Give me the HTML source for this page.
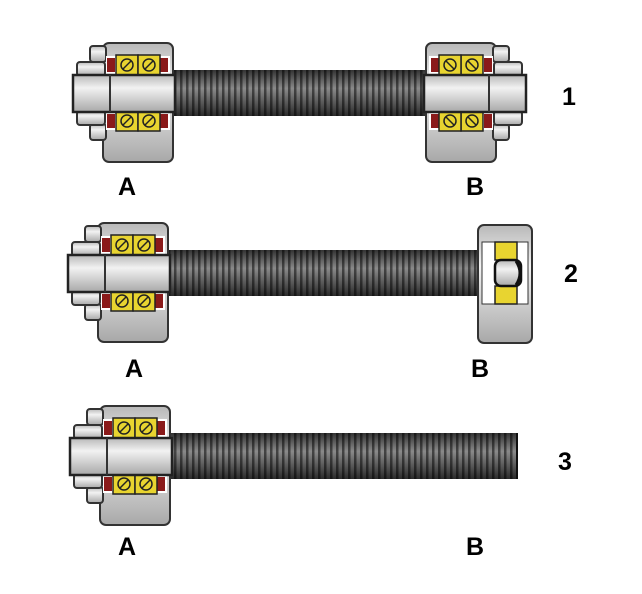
<!DOCTYPE html>
<html><head><style>
html,body{margin:0;padding:0;background:#fff;}
svg{display:block}
text{font-family:"Liberation Sans",Arial,sans-serif;font-weight:bold;font-size:25px;fill:#000}
</style></head><body>
<svg width="642" height="594" viewBox="0 0 642 594" xmlns="http://www.w3.org/2000/svg">
<defs>
<linearGradient id="gv" x1="0" y1="0" x2="0" y2="1">
<stop offset="0" stop-color="#b8b8b8"/><stop offset="0.35" stop-color="#f2f2f2"/><stop offset="1" stop-color="#a8a8a8"/>
</linearGradient>
<linearGradient id="gs" x1="0" y1="0" x2="0" y2="1">
<stop offset="0" stop-color="#333"/><stop offset="0.4" stop-color="#8a8a8a"/><stop offset="1" stop-color="#2a2a2a"/>
</linearGradient>
<pattern id="th" width="6" height="50" patternUnits="userSpaceOnUse">
<rect x="0" y="0" width="2.5" height="50" fill="#000" opacity="0.5"/>
</pattern>
<g id="brg">
<rect x="0" y="0" width="22" height="20" fill="#e8d430" stroke="#222" stroke-width="1.5"/>
<rect x="22" y="0" width="22" height="20" fill="#e8d430" stroke="#222" stroke-width="1.5"/>
<circle cx="11" cy="10" r="6" fill="none" stroke="#222" stroke-width="1.5"/>
<circle cx="33" cy="10" r="6" fill="none" stroke="#222" stroke-width="1.5"/>
<line x1="7" y1="14" x2="15" y2="6" stroke="#222" stroke-width="1.5"/>
<line x1="29" y1="14" x2="37" y2="6" stroke="#222" stroke-width="1.5"/>
</g>
<g id="asm">
<rect x="103" y="43" width="70" height="119" rx="6" fill="url(#gv)" stroke="#333" stroke-width="2"/>
<rect x="90" y="46" width="16" height="16" rx="3" fill="url(#gv)" stroke="#333" stroke-width="2"/>
<rect x="90" y="124" width="16" height="16" rx="3" fill="url(#gv)" stroke="#333" stroke-width="2"/>
<rect x="106" y="56" width="64" height="18" fill="#fff"/>
<rect x="106" y="112" width="64" height="18" fill="#fff"/>
<rect x="107" y="58" width="8" height="14" fill="#8a1a1a"/>
<rect x="160" y="58" width="8" height="14" fill="#8a1a1a"/>
<rect x="107" y="114" width="8" height="14" fill="#8a1a1a"/>
<rect x="160" y="114" width="8" height="14" fill="#8a1a1a"/>
<use href="#brg" x="116" y="55"/>
<use href="#brg" x="116" y="111"/>
<rect x="77" y="62" width="28" height="14" rx="3" fill="url(#gv)" stroke="#333" stroke-width="2"/>
<rect x="77" y="111" width="28" height="14" rx="3" fill="url(#gv)" stroke="#333" stroke-width="2"/>
<rect x="73" y="75" width="102" height="37" fill="url(#gv)" stroke="#222" stroke-width="2.5"/>
<line x1="110" y1="75" x2="110" y2="112" stroke="#333" stroke-width="2"/>
</g>
</defs>

<rect x="173" y="70" width="254" height="46" fill="url(#gs)"/>
<rect x="173" y="70" width="254" height="46" fill="url(#th)"/>
<use href="#asm"/>
<use href="#asm" transform="translate(599,0) scale(-1,1)"/>
<text x="118" y="195">A</text><text x="466" y="195">B</text><text x="562" y="105">1</text>

<rect x="165" y="250" width="332" height="46" fill="url(#gs)"/>
<rect x="165" y="250" width="332" height="46" fill="url(#th)"/>
<use href="#asm" transform="translate(-5,180)"/>
<rect x="478" y="225" width="54" height="118" rx="6" fill="url(#gv)" stroke="#333" stroke-width="2"/>
<rect x="482" y="242" width="46" height="62" fill="#fff" stroke="#333" stroke-width="1"/>
<rect x="495" y="242" width="22" height="18" fill="#e8d430" stroke="#222" stroke-width="1.5"/>
<rect x="495" y="286" width="22" height="18" fill="#e8d430" stroke="#222" stroke-width="1.5"/>
<rect x="495" y="260" width="26" height="26" rx="6" fill="url(#gv)" stroke="#111" stroke-width="2.5"/>
<path d="M516 261 Q524 273 516 285" fill="none" stroke="#111" stroke-width="3"/>
<text x="125" y="377">A</text><text x="471" y="377">B</text><text x="564" y="282">2</text>

<rect x="166" y="433" width="351" height="46" fill="url(#gs)"/>
<rect x="166" y="433" width="351" height="46" fill="url(#th)"/>
<rect x="516" y="433" width="2" height="46" fill="#111"/>
<use href="#asm" transform="translate(-3,363)"/>
<text x="118" y="555">A</text><text x="466" y="555">B</text><text x="558" y="470">3</text>
</svg>
</body></html>
